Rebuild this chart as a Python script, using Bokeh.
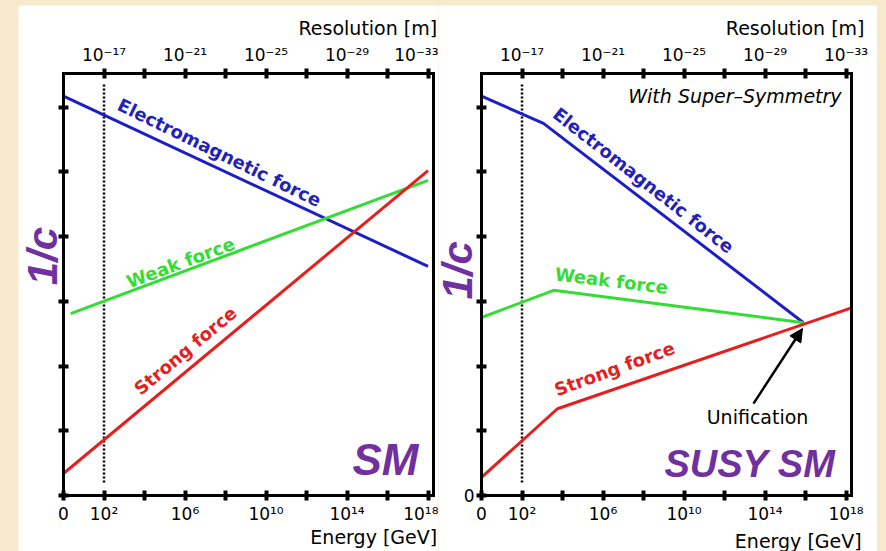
import math
from bokeh.plotting import figure
from bokeh.models import Range1d, LinearAxis, FixedTicker, Label, Arrow, NormalHead
from bokeh.layouts import row
from bokeh.embed import file_html
from bokeh.resources import INLINE

# ---------------- data ----------------
# x: log10(Energy / GeV), y: 1/coupling (arbitrary units)
energy_ticks = [0, 2, 4, 6, 8, 10, 12, 14, 16, 18]
energy_labels = ["0", "10²", "", "10⁶", "", "10¹⁰", "", "10¹⁴", "", "10¹⁸"]
res_ticks = [2, 4, 6, 8, 10, 12, 14, 16, 18]
res_labels = ["10⁻¹⁷", "", "10⁻²¹", "", "10⁻²⁵", "", "10⁻²⁹", "", "10⁻³³"]
y_ticks = [0, 1, 2, 3, 4, 5, 6]

sm_em_x = [0, 18]
sm_em_y = [6.17, 3.54]
sm_weak_x = [0.35, 18]
sm_weak_y = [2.81, 4.87]
sm_strong_x = [0, 18]
sm_strong_y = [0.34, 5.02]

susy_em_x = [0, 3.06, 15.9]
susy_em_y = [6.17, 5.75, 2.67]
susy_weak_x = [0, 3.56, 15.9]
susy_weak_y = [2.75, 3.17, 2.67]
susy_strong_x = [0, 3.75, 18.27]
susy_strong_y = [0.28, 1.34, 2.90]

ew_x = [2, 2]          # 10^2 GeV marker
ew_y = [0.2, 6.37]

arrow_tail = (13.43, 1.42)
arrow_head = (15.85, 2.58)

X_MAX = 18.27
Y_MAX = 6.52

BLUE = "#1E1EC8"
GREEN = "#33DD33"
RED = "#E61E1E"
PURPLE = "#7030A0"
BEIGE = "#F7E9CC"
FONT = "DejaVu Sans"

PX_X = 20.25   # pixels per decade
PX_Y = 64.7    # pixels per y unit


def style_axis(ax):
    ax.axis_line_width = 3
    ax.axis_line_color = "black"
    ax.axis_line_cap = "square"
    ax.major_tick_in = 5
    ax.major_tick_out = 5
    ax.major_tick_line_width = 4
    ax.minor_tick_line_color = None
    ax.major_label_text_font = FONT
    ax.major_label_text_font_size = "17px"
    ax.major_label_text_color = "black"
    ax.major_label_standoff = 4


def make_panel(width, left, right, y_zero_label, top_b=68, bot_b=56):
    x0 = -left / PX_X
    x1 = X_MAX + right / PX_X
    y0 = -bot_b / PX_Y
    y1 = Y_MAX + top_b / PX_Y
    p = figure(width=width, height=546,
               x_range=Range1d(x0, x1), y_range=Range1d(y0, y1),
               x_axis_location=None, y_axis_location=None,
               output_backend="svg", toolbar_location=None,
               min_border=0,
               background_fill_color="white", border_fill_color="white",
               outline_line_color=None)
    p.grid.visible = False

    bottom = LinearAxis(fixed_location=0, bounds=(0, X_MAX),
                        ticker=FixedTicker(ticks=energy_ticks),
                        major_label_overrides={t: l for t, l in zip(energy_ticks, energy_labels)})
    top = LinearAxis(fixed_location=Y_MAX, bounds=(0, X_MAX),
                     ticker=FixedTicker(ticks=res_ticks),
                     major_label_overrides={t: l for t, l in zip(res_ticks, res_labels)})
    left_ax = LinearAxis(fixed_location=0, bounds=(0, Y_MAX),
                         ticker=FixedTicker(ticks=y_ticks),
                         major_label_overrides={t: ("0" if (t == 0 and y_zero_label) else "")
                                                for t in y_ticks})
    right_ax = LinearAxis(fixed_location=X_MAX, bounds=(0, Y_MAX),
                          ticker=FixedTicker(ticks=[]))
    for ax in (bottom, top, left_ax, right_ax):
        style_axis(ax)
    left_ax.major_label_standoff = 2
    right_ax.major_tick_line_color = None
    right_ax.major_label_text_font_size = "0px"

    p.add_layout(bottom, "below")
    p.add_layout(top, "above")
    p.add_layout(left_ax, "left")
    p.add_layout(right_ax, "right")
    return p


def lab(p, text, x, y, color="black", size="19px", style="normal", align="left",
        angle=0.0, font=FONT):
    p.add_layout(Label(x=x, y=y, text=text, text_color=color, text_font_size=size,
                       text_font_style=style, text_align=align, text_baseline="middle",
                       angle=angle, text_font=font))


# ---------------- left panel: SM ----------------
p1 = make_panel(420, 45, 5, False)
p1.margin = (5, 0, 0, 18)
p1.line(ew_x, ew_y, line_color="black", line_width=2.5, line_dash="2 2")
p1.line(sm_em_x, sm_em_y, line_color=BLUE, line_width=3)
p1.line(sm_weak_x, sm_weak_y, line_color=GREEN, line_width=3)
p1.line(sm_strong_x, sm_strong_y, line_color=RED, line_width=3)

lab(p1, "Electromagnetic force", 7.70, 5.30, color="#2222BB", size="18px", style="bold",
    align="center", angle=math.radians(-26))
lab(p1, "Weak force", 5.78, 3.60, color=GREEN, size="18px", style="bold",
    align="center", angle=math.radians(20.4))
lab(p1, "Strong force", 6.02, 2.24, color=RED, size="18px", style="bold",
    align="center", angle=math.radians(39.7))
lab(p1, "SM", 17.53, 0.556, color=PURPLE, size="44px", style="bold italic",
    align="right", font="Liberation Sans")
lab(p1, "Resolution [m]", 18.45, 7.22, size="19px", align="right")
lab(p1, "Energy [GeV]", 18.45, -0.64, size="19px", align="right")
lab(p1, "1/c", -1.04, 3.70, color=PURPLE, size="42px", style="bold italic",
    align="center", angle=math.pi / 2, font="Liberation Sans")

# ---------------- right panel: SUSY SM ----------------
p2 = make_panel(439, 43, 26, True)
p2.margin = (5, 9, 0, 0)
p2.line(ew_x, ew_y, line_color="black", line_width=2.5, line_dash="2 2")
p2.line(susy_em_x, susy_em_y, line_color=BLUE, line_width=3)
p2.line(susy_weak_x, susy_weak_y, line_color=GREEN, line_width=3)
p2.line(susy_strong_x, susy_strong_y, line_color=RED, line_width=3)

p2.add_layout(Arrow(x_start=arrow_tail[0], y_start=arrow_tail[1],
                    x_end=arrow_head[0], y_end=arrow_head[1],
                    line_color="black", line_width=2.5,
                    end=NormalHead(size=13, fill_color="black", line_color="black")))

lab(p2, "With Super–Symmetry", 17.78, 6.18, size="19px", style="italic", align="right")
lab(p2, "Electromagnetic force", 8.0, 4.87, color="#2222BB", size="18px", style="bold",
    align="center", angle=math.radians(-38))
lab(p2, "Weak force", 6.42, 3.32, color=GREEN, size="18px", style="bold",
    align="center", angle=math.radians(-7))
lab(p2, "Strong force", 6.57, 1.96, color=RED, size="18px", style="bold",
    align="center", angle=math.radians(20))
lab(p2, "Unification", 13.63, 1.22, size="19px", align="center")
lab(p2, "SUSY SM", 17.48, 0.487, color=PURPLE, size="38px", style="bold italic",
    align="right", font="Liberation Sans")
lab(p2, "Resolution [m]", 18.91, 7.22, size="19px", align="right")
lab(p2, "Energy [GeV]", 18.77, -0.70, size="19px", align="right")
lab(p2, "1/c", -1.19, 3.48, color=PURPLE, size="42px", style="bold italic",
    align="center", angle=math.pi / 2, font="Liberation Sans")

layout = row(p1, p2, styles={"background-color": BEIGE})

open("out.html", "w").write(file_html(layout, INLINE))
